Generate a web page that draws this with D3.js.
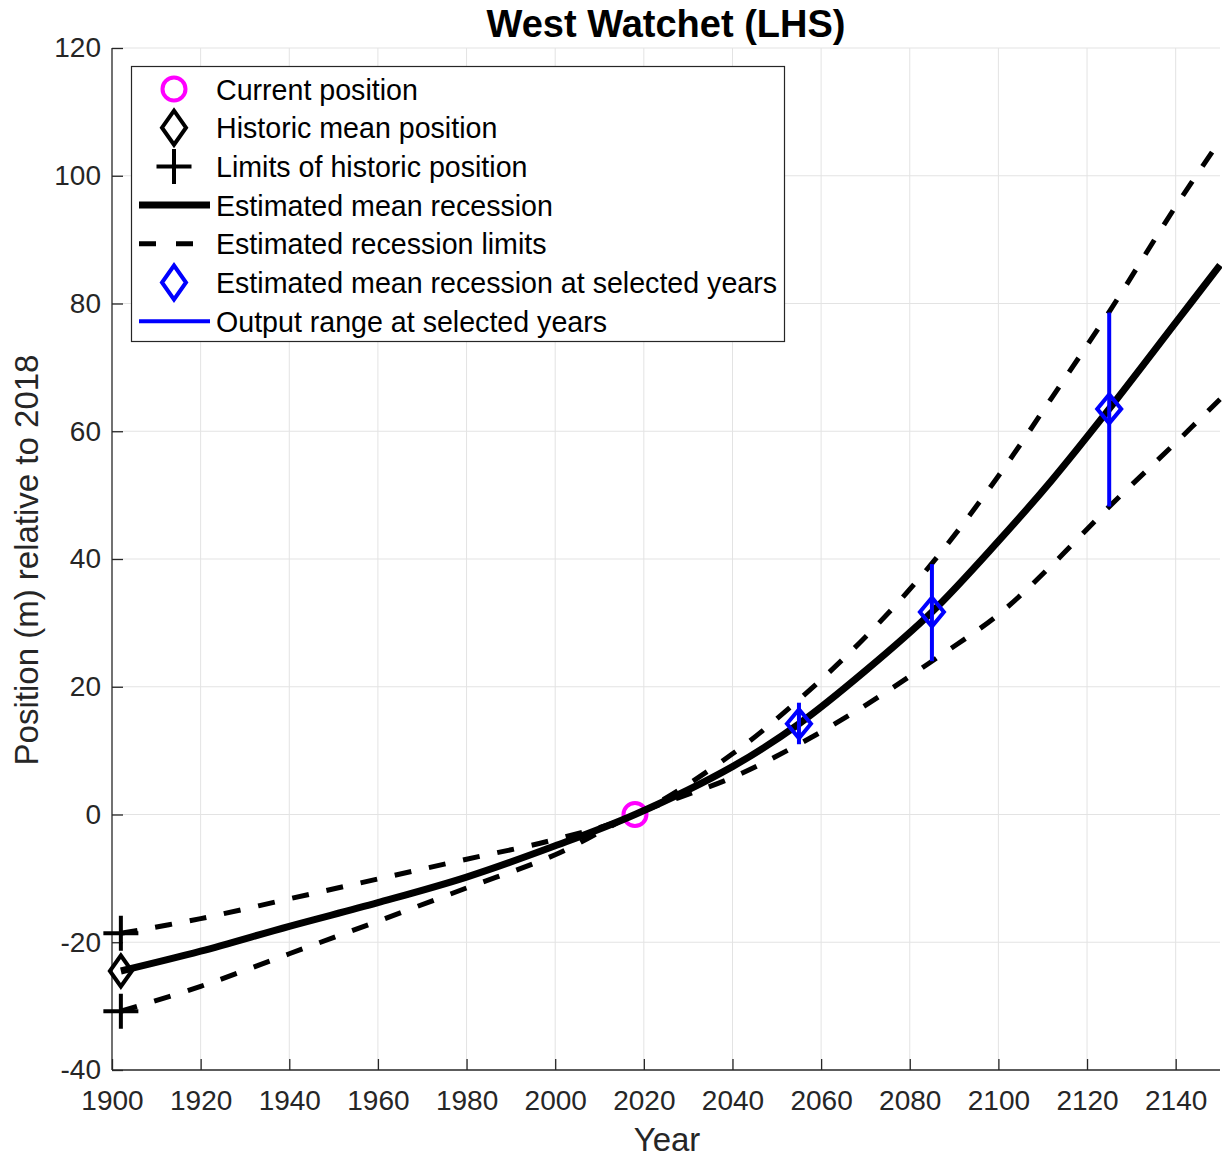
<!DOCTYPE html>
<html>
<head>
<meta charset="utf-8">
<script src="https://cdn.jsdelivr.net/npm/d3@7"></script>
<style>
  body { margin: 0; background: #fff; }
  svg { display: block; font-family: 'Liberation Sans', Arial, sans-serif; }
</style>
</head>
<body>
<svg id="chart"></svg>
<script>
// values
let years = [1902, 1920, 1940, 1960, 1980, 2000, 2018, 2040, 2055, 2070, 2085, 2100, 2112, 2125, 2140, 2150];
let meanRecession = [-24.5, -21.4, -17.5, -13.8, -9.8, -4.9, 0, 7.5, 14.2, 22.5, 31.7, 42.8, 52.3, 63.5, 77.0, 86.0];
let upperLimit = [-18.6, -16.3, -13.2, -10.1, -7.0, -3.9, 0, 9.5, 18.0, 27.8, 39.3, 53.0, 65.2, 78.7, 95.2, 105.5];
let lowerLimit = [-30.8, -26.9, -21.8, -16.7, -11.5, -6.3, 0, 5.8, 11.0, 17.1, 24.0, 31.3, 39.0, 48.2, 58.2, 65.0];

let currentPosition = {year: 2018, value: 0};
let historicMean = {year: 1902, value: -24.5};
let historicLimits = [-18.6, -30.8];

let selectedYears = [2055, 2085, 2125];
let selectedMean = [14.2, 31.7, 63.5];
let rangeLow = [11.0, 24.0, 48.2];
let rangeHigh = [17.5, 39.2, 78.6];

let xTicks = d3.range(1900, 2141, 20);
let yTicks = d3.range(-40, 121, 20);

let legendLabels = [
  'Current position',
  'Historic mean position',
  'Limits of historic position',
  'Estimated mean recession',
  'Estimated recession limits',
  'Estimated mean recession at selected years',
  'Output range at selected years'
];

let W = 1222, H = 1157;
let margin = {top: 48, right: 2, bottom: 87, left: 112};
let width = W - margin.left - margin.right,
  height = H - margin.top - margin.bottom;

let svg = d3.select('#chart').attr('width', W).attr('height', H);
let g = svg.append('g').attr('transform', 'translate(' + margin.left + ',' + margin.top + ')');

let xScale = d3.scaleLinear().domain([1900, 2150]).range([0, width]);
let yScale = d3.scaleLinear().domain([-40, 120]).range([height, 0]);

let axisColor = '#262626';
let plainNum = (d) => String(d); // hyphen minus, no thousands comma

// grid
g.append('g').selectAll('line.gx')
  .data(xTicks.slice(1))
  .enter().append('line')
  .attr('x1', (d) => xScale(d)).attr('x2', (d) => xScale(d))
  .attr('y1', 0).attr('y2', height)
  .attr('stroke', '#e3e3e3').attr('stroke-width', 1);
g.append('g').selectAll('line.gy')
  .data(yTicks.slice(1))
  .enter().append('line')
  .attr('x1', 0).attr('x2', width)
  .attr('y1', (d) => yScale(d)).attr('y2', (d) => yScale(d))
  .attr('stroke', '#e3e3e3').attr('stroke-width', 1);

// axes
let xAxis = g.append('g')
  .attr('transform', 'translate(0,' + height + ')')
  .call(d3.axisBottom(xScale).tickValues(xTicks).tickFormat(plainNum)
    .tickSizeInner(-11).tickSizeOuter(0).tickPadding(20));
let yAxis = g.append('g')
  .call(d3.axisLeft(yScale).tickValues(yTicks).tickFormat(plainNum)
    .tickSizeInner(-11).tickSizeOuter(0).tickPadding(11));

[xAxis, yAxis].forEach((a) => {
  a.select('.domain').attr('stroke', axisColor).attr('stroke-width', 1.3);
  a.selectAll('.tick line').attr('stroke', axisColor).attr('stroke-width', 1.3);
  a.selectAll('.tick text').attr('fill', axisColor).attr('font-size', 28).attr('font-family', null);
});
yAxis.select('.domain').attr('d', 'M0,0V' + height);
xAxis.select('.domain').attr('d', 'M0,0H' + width);

// labels
svg.append('text')
  .attr('x', 666).attr('y', 37)
  .attr('text-anchor', 'middle')
  .attr('font-size', 38).attr('font-weight', 'bold')
  .attr('fill', '#000')
  .text('West Watchet (LHS)');

svg.append('text')
  .attr('x', 667).attr('y', 1151)
  .attr('text-anchor', 'middle')
  .attr('font-size', 33).attr('fill', axisColor)
  .text('Year');

svg.append('text')
  .attr('transform', 'translate(38,560) rotate(-90)')
  .attr('text-anchor', 'middle')
  .attr('font-size', 33).attr('fill', axisColor)
  .text('Position (m) relative to 2018');

// symbols
let diamondPath = (hw, hh) => 'M0,' + (-hh) + 'L' + hw + ',0L0,' + hh + 'L' + (-hw) + ',0Z';
let crossPath = (s) => 'M' + (-s) + ',0H' + s + 'M0,' + (-s) + 'V' + s;

let series = years.map((y, i) => ({year: y, mean: meanRecession[i], up: upperLimit[i], lo: lowerLimit[i]}));

let lineGen = (key) => d3.line()
  .x((d) => xScale(d.year))
  .y((d) => yScale(d[key]))
  .curve(d3.curveCatmullRom.alpha(0.5));

// current position
g.append('circle')
  .attr('cx', xScale(currentPosition.year)).attr('cy', yScale(currentPosition.value))
  .attr('r', 11.5)
  .attr('fill', 'none').attr('stroke', '#ff00ff').attr('stroke-width', 4);

// historic mean
g.append('path')
  .attr('d', diamondPath(11, 15.5))
  .attr('transform', 'translate(' + xScale(historicMean.year) + ',' + yScale(historicMean.value) + ')')
  .attr('fill', 'none').attr('stroke', '#000').attr('stroke-width', 4);

// historic limits
g.selectAll('.hist-limit')
  .data(historicLimits)
  .enter().append('path')
  .attr('class', 'hist-limit')
  .attr('d', crossPath(17.5))
  .attr('transform', (d) => 'translate(' + xScale(historicMean.year) + ',' + yScale(d) + ')')
  .attr('fill', 'none').attr('stroke', '#000').attr('stroke-width', 4);

// mean recession
g.append('path')
  .attr('d', lineGen('mean')(series))
  .attr('fill', 'none').attr('stroke', '#000').attr('stroke-width', 7);

// recession limits
['up', 'lo'].forEach((k) => {
  g.append('path')
    .attr('d', lineGen(k)(series))
    .attr('fill', 'none').attr('stroke', '#000').attr('stroke-width', 5)
    .attr('stroke-dasharray', '17,18');
});

// selected years
g.selectAll('.sel-diamond')
  .data(selectedYears)
  .enter().append('path')
  .attr('class', 'sel-diamond')
  .attr('d', diamondPath(12, 14.5))
  .attr('transform', (d, i) => 'translate(' + xScale(d) + ',' + yScale(selectedMean[i]) + ')')
  .attr('fill', 'none').attr('stroke', '#0000ff').attr('stroke-width', 4);

g.selectAll('.sel-range')
  .data(selectedYears)
  .enter().append('line')
  .attr('class', 'sel-range')
  .attr('x1', (d) => xScale(d)).attr('x2', (d) => xScale(d))
  .attr('y1', (d, i) => yScale(rangeLow[i])).attr('y2', (d, i) => yScale(rangeHigh[i]))
  .attr('stroke', '#0000ff').attr('stroke-width', 4);

// legend
let legend = svg.append('g');
legend.append('rect')
  .attr('x', 131.5).attr('y', 66.5).attr('width', 653).attr('height', 275)
  .attr('fill', '#fff').attr('stroke', axisColor).attr('stroke-width', 1.2);

let rowY = (i) => 89 + i * 38.7;
let symX = 174;

legend.append('circle')
  .attr('cx', symX).attr('cy', rowY(0)).attr('r', 11.5)
  .attr('fill', 'none').attr('stroke', '#ff00ff').attr('stroke-width', 4);
legend.append('path')
  .attr('d', diamondPath(12, 17))
  .attr('transform', 'translate(' + symX + ',' + rowY(1) + ')')
  .attr('fill', 'none').attr('stroke', '#000').attr('stroke-width', 4);
legend.append('path')
  .attr('d', crossPath(17.5))
  .attr('transform', 'translate(' + symX + ',' + rowY(2) + ')')
  .attr('fill', 'none').attr('stroke', '#000').attr('stroke-width', 4);
legend.append('line')
  .attr('x1', 139).attr('x2', 210).attr('y1', rowY(3)).attr('y2', rowY(3))
  .attr('stroke', '#000').attr('stroke-width', 7);
legend.append('line')
  .attr('x1', 139).attr('x2', 210).attr('y1', rowY(4)).attr('y2', rowY(4))
  .attr('stroke', '#000').attr('stroke-width', 5).attr('stroke-dasharray', '17,20');
legend.append('path')
  .attr('d', diamondPath(12, 17))
  .attr('transform', 'translate(' + symX + ',' + rowY(5) + ')')
  .attr('fill', 'none').attr('stroke', '#0000ff').attr('stroke-width', 4);
legend.append('line')
  .attr('x1', 139).attr('x2', 210).attr('y1', rowY(6)).attr('y2', rowY(6))
  .attr('stroke', '#0000ff').attr('stroke-width', 4);

legend.selectAll('.legend-label')
  .data(legendLabels)
  .enter().append('text')
  .attr('class', 'legend-label')
  .attr('x', 216)
  .attr('y', (d, i) => rowY(i) + 10.5)
  .attr('font-size', 28.6)
  .attr('fill', '#000')
  .text((d) => d);
</script>
</body>
</html>
